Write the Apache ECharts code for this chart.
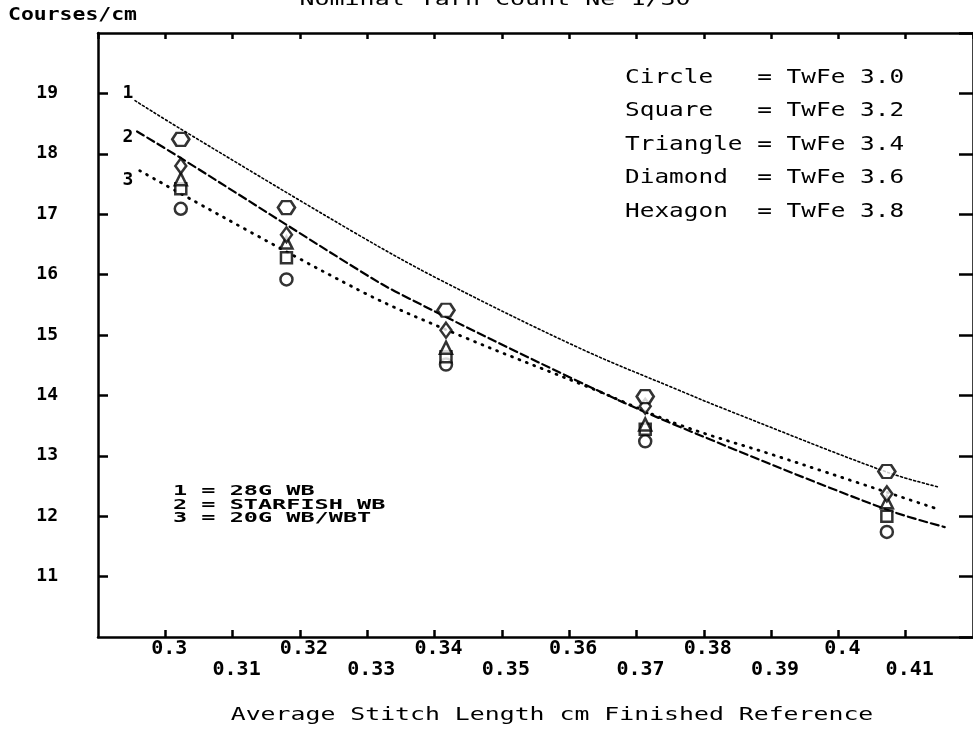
<!DOCTYPE html>
<html><head><meta charset="utf-8">
<script src="https://cdn.jsdelivr.net/npm/echarts@6/dist/echarts.min.js"></script>
<style>html,body{margin:0;padding:0;background:#fff}#c{width:973px;height:735px}</style>
</head><body><div id="c"></div>
<script>
// ---- data ----
const xTickLabels = ['0.3','0.31','0.32','0.33','0.34','0.35','0.36','0.37','0.38','0.39','0.4','0.41'];
const yTickLabels = ['11','12','13','14','15','16','17','18','19'];

const stitchLength = [0.3023, 0.3180, 0.3417, 0.3713, 0.4072];
const circleY   = [17.09, 15.92, 14.51, 13.24, 11.74];
const squareY   = [17.42, 16.28, 14.64, 13.44, 12.00];
const triangleY = [17.58, 16.53, 14.79, 13.52, 12.23];
const diamondY  = [17.80, 16.66, 15.08, 13.82, 12.37];
const hexagonY  = [18.24, 17.11, 15.41, 13.98, 12.74];

const curve1X = [0.2955, 0.3023, 0.3288, 0.3407, 0.3614, 0.3762, 0.3832, 0.4072, 0.4150];
const curve1Y = [18.88, 18.41, 16.65, 15.92, 14.79, 14.09, 13.77, 12.73, 12.48];
const curve2X = [0.2958, 0.3023, 0.3288, 0.3347, 0.3614, 0.3762, 0.4069, 0.4158];
const curve2Y = [18.37, 17.93, 16.07, 15.69, 14.23, 13.49, 12.12, 11.82];
const curve3X = [0.2962, 0.3288, 0.3436, 0.3639, 0.3762, 0.3910, 0.4147];
const curve3Y = [17.72, 15.74, 15.00, 14.09, 13.52, 12.99, 12.12];

const titleText = 'Nominal Yarn Count Ne 1/30';
const yAxisTitle = 'Courses/cm';
const xAxisTitle = 'Average Stitch Length cm Finished Reference';
const curveNames = ['1', '2', '3'];
const legendLines = ['Circle   = TwFe 3.0', 'Square   = TwFe 3.2', 'Triangle = TwFe 3.4', 'Diamond  = TwFe 3.6', 'Hexagon  = TwFe 3.8'];
const noteLines = ['1 = 28G WB', '2 = STARFISH WB', '3 = 20G WB/WBT'];

// ---- chart ----
const pairs = (xs, ys) => xs.map((x, i) => [x, ys[i]]);
const MONO = '"DejaVu Sans Mono", "Liberation Mono", monospace';
const chart = echarts.init(document.getElementById('c'), null, {renderer: 'canvas'});

const axisLineStyle = {color: '#000', width: 2.5};
const xCommon = {type: 'value', min: 0.29, max: 0.42, interval: 0.01, splitLine: {show: false},
  axisLine: {show: true, onZero: false, lineStyle: axisLineStyle},
  axisTick: {show: true, inside: true, length: 7, lineStyle: {color: '#000', width: 2.5}}};
const yCommon = {type: 'value', min: 10, max: 20, interval: 1, splitLine: {show: false},
  axisLine: {show: true, onZero: false, lineStyle: axisLineStyle},
  axisTick: {show: true, inside: true, length: 10, lineStyle: {color: '#000', width: 2.5}}};

const hexPath = 'path://M4,0 L12,0 L16,7 L12,14 L4,14 L0,7 Z';
const markerStyle = {color: '#fff', borderColor: '#000', borderWidth: 2.5};
function scatter(name, ys, symbol, size) {
  return {name, type: 'scatter', data: pairs(stitchLength, ys), symbol, symbolSize: size,
    itemStyle: markerStyle, z: 5, silent: true};
}
function curve(name, xs, ys, dash, width) {
  return {name, type: 'line', data: pairs(xs, ys), smooth: 0.35, symbol: 'none',
    lineStyle: {color: '#000', width, type: dash, cap: 'round'}, z: 3, silent: true};
}

function txt(text, x, y, font, scaleX, align, vAlign, lineHeight) {
  return {type: 'text', x, y, scaleX, silent: true,
    style: {text, font, fill: '#000', align, verticalAlign: vAlign, lineHeight}};
}

chart.setOption({
  animation: false,
  backgroundColor: '#fff',
  grid: {left: 98, top: 33, width: 877, height: 604, containLabel: false},
  xAxis: [
    Object.assign({}, xCommon, {position: 'bottom',
      axisLabel: {show: true, margin: 1, color: '#000', fontFamily: MONO, fontSize: 20, fontWeight: 'bold', lineHeight: 21,
        padding: [0, 0, 0, 8],
        showMinLabel: false, showMaxLabel: false,
        formatter: function (v) {
          const k = Math.round((v - 0.3) * 100);
          if (k < 0 || k >= xTickLabels.length) return '';
          return k % 2 === 0 ? xTickLabels[k] : '\n' + xTickLabels[k];
        }}}),
    Object.assign({}, xCommon, {position: 'top', axisTick: {show: true, inside: true, length: 6, lineStyle: {color: '#000', width: 2.5}}, axisLabel: {show: false}})
  ],
  yAxis: [
    Object.assign({}, yCommon, {position: 'left',
      axisLabel: {show: true, margin: 40, color: '#000', fontFamily: MONO, fontSize: 18, fontWeight: 'bold',
        showMinLabel: false, showMaxLabel: false,
        formatter: function (v) {
          const k = Math.round(v) - 11;
          return (k >= 0 && k < yTickLabels.length) ? yTickLabels[k] : '';
        }}}),
    Object.assign({}, yCommon, {position: 'right', axisTick: {show: true, inside: true, length: 14, lineStyle: {color: '#000', width: 2.5}}, axisLabel: {show: false}})
  ],
  series: [
    curve('curve1', curve1X, curve1Y, [2, 2.5], 1.6),
    curve('curve2', curve2X, curve2Y, [8, 4], 2.2),
    curve('curve3', curve3X, curve3Y, [1, 7], 2.8),
    scatter('Circle', circleY, 'circle', 12),
    scatter('Square', squareY, 'rect', 11),
    scatter('Triangle', triangleY, 'triangle', 12),
    scatter('Diamond', diamondY, 'diamond', [11, 15]),
    scatter('Hexagon', hexagonY, hexPath, [17, 13])
  ],
  graphic: [
    txt(titleText, 495, 1, '17px ' + MONO, 1.47, 'center', 'middle'),
    txt(yAxisTitle, 8, 16, 'bold 17px ' + MONO, 1.26, 'left', 'middle'),
    txt(xAxisTitle, 552, 716, '17px ' + MONO, 1.46, 'center', 'middle'),
    txt(legendLines.join('\n'), 625, 61, '20px ' + MONO, 1.22, 'left', 'top', 33.5),
    txt(noteLines.join('\n'), 173, 485, 'bold 14px ' + MONO, 1.68, 'left', 'top', 13.5),
    txt(curveNames[0], 128, 93, 'bold 18px ' + MONO, 1, 'center', 'middle'),
    txt(curveNames[1], 128, 137, 'bold 18px ' + MONO, 1, 'center', 'middle'),
    txt(curveNames[2], 128, 180, 'bold 18px ' + MONO, 1, 'center', 'middle')
  ]
});
</script>
</body></html>
